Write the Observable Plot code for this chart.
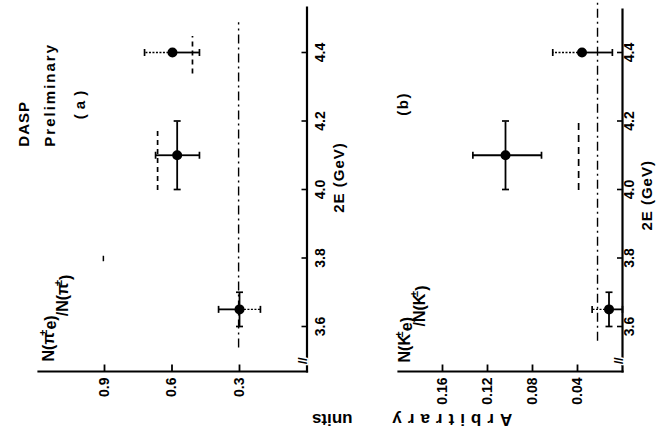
<!DOCTYPE html>
<html><head><meta charset="utf-8">
<script src="https://cdn.jsdelivr.net/npm/d3@7"></script>
<script src="https://cdn.jsdelivr.net/npm/@observablehq/plot@0.6"></script>
<style>
html,body{margin:0;padding:0;background:#fff;width:662px;height:434px;overflow:hidden}
#fig{position:absolute;left:0;top:0;width:434px;height:662px;transform-origin:0 0;transform:translate(0,434px) rotate(-90deg)}
#fig svg{position:absolute;left:0;overflow:visible}
</style></head><body><div id="fig"></div>
<script>
// ---------- data ----------
const energyTicks = [3.6, 3.8, 4.0, 4.2, 4.4];
const axisBreak = [3.5];
const pionTicks = [0.3, 0.6, 0.9];
const kaonTicks = [0.04, 0.08, 0.12, 0.16];

// panel (a): N(pi e)/N(pi)
const pionE   = [3.65, 4.10, 4.40];
const pionR   = [0.300, 0.577, 0.598];
const pionRlo = [0.207, 0.478, 0.478];
const pionRhi = [0.393, 0.673, 0.722];
const pionElo = [3.60, 4.00, null];
const pionEhi = [3.70, 4.20, null];
const pionHiDotted = [false, false, true];
const pionLoDotted = [true, false, false];
const pionDashR  = [0.664, 0.509];
const pionDashE1 = [4.00, 4.34];
const pionDashE2 = [4.18, 4.45];
const pionDotDashR  = [0.304];
const pionDotDashE1 = [3.54];
const pionDotDashE2 = [4.49];
const pionMarkE = [3.80];
const pionMarkR = [0.905];

// panel (b): N(K e)/N(K)
const kaonE   = [3.65, 4.10, 4.40];
const kaonR   = [0.012, 0.104, 0.036];
const kaonRlo = [0.000, 0.072, 0.009];
const kaonRhi = [0.027, 0.133, 0.062];
const kaonElo = [3.60, 4.00, null];
const kaonEhi = [3.70, 4.20, null];
const kaonHiDotted = [true, false, true];
const kaonLoDotted = [false, false, false];
const kaonDashR  = [0.039];
const kaonDashE1 = [4.00];
const kaonDashE2 = [4.20];
const kaonDotDashR  = [0.0222];
const kaonDotDashE1 = [3.56];
const kaonDotDashE2 = [4.55];

const textA = ["DASP", "Preliminary", "(a)"];
const textB = ["(b)"];
const ratioA = ["N(π±e)", "/N(π±)"];
const ratioB = ["N(K±e)", "/N(K±)"];
const xTitle = "2E (GeV)";
const yTitle = ["Arbitrary", "units"];

// ---------- helpers ----------
const FONT = '"Liberation Sans",Arial,sans-serif';
const rad = s => Math.sqrt(s / Math.PI);
const capH = {draw(c, s){ const r = rad(s); c.moveTo(-r, 0); c.lineTo(r, 0); }};
const capV = {draw(c, s){ const r = rad(s); c.moveTo(0, -r); c.lineTo(0, r); }};
const tickUp = {draw(c, s){ const r = rad(s); c.moveTo(0, 0); c.lineTo(0, -r); }};
const tickRight = {draw(c, s){ const r = rad(s); c.moveTo(0, 0); c.lineTo(r, 0); }};

function rowsOf(E, R, lo, hi, elo, ehi, hd, ld) {
  return E.map((e, i) => ({e, r: R[i], lo: lo[i], hi: hi[i], elo: elo[i], ehi: ehi[i], hd: hd[i], ld: ld[i]}));
}
function segs(e1, e2, r) { return r.map((v, i) => ({v, e1: e1[i], e2: e2[i]})); }

function dataMarks(rows, dash, dotdash, dashPattern) {
  const bars = rows.flatMap(d => [
    {e: d.e, y1: d.r, y2: d.hi, dotted: d.hd},
    {e: d.e, y1: d.lo, y2: d.r, dotted: d.ld}
  ]);
  const eRows = rows.filter(d => d.elo != null);
  return [
    Plot.ruleY(dotdash, {y: "v", x1: "e1", x2: "e2", strokeWidth: 1.4, strokeDasharray: "9,4,2,4"}),
    Plot.ruleY(dash, {y: "v", x1: "e1", x2: "e2", strokeWidth: 1.7, strokeDasharray: dashPattern}),
    Plot.ruleX(bars.filter(s => !s.dotted), {x: "e", y1: "y1", y2: "y2", strokeWidth: 1.8}),
    Plot.ruleX(bars.filter(s => s.dotted), {x: "e", y1: "y1", y2: "y2", strokeWidth: 1.4, strokeDasharray: "2,1.5"}),
    Plot.ruleY(eRows, {y: "r", x1: "elo", x2: "ehi", strokeWidth: 1.8}),
    Plot.dot(rows.flatMap(d => [{e: d.e, v: d.lo}, {e: d.e, v: d.hi}]), {x: "e", y: "v", symbol: capH, r: 3.5, stroke: "black", strokeWidth: 1.7}),
    Plot.dot(eRows.flatMap(d => [{e: d.elo, v: d.r}, {e: d.ehi, v: d.r}]), {x: "e", y: "v", symbol: capV, r: 3.5, stroke: "black", strokeWidth: 1.7}),
    Plot.dot(rows, {x: "e", y: "r", r: 5, fill: "black", stroke: "none"})
  ];
}

function axisMarks(vTicks, vFmt, xPad, titleE, titleDy) {
  return [
    Plot.frame({anchor: "left", strokeWidth: 2.2}),
    Plot.frame({anchor: "bottom", strokeWidth: 2.2}),
    Plot.dot(energyTicks, {x: d => d, frameAnchor: "bottom", symbol: tickUp, r: 5.5, stroke: "black", strokeWidth: 1.6}),
    Plot.dot(vTicks, {y: d => d, frameAnchor: "left", symbol: tickRight, r: 7, stroke: "black", strokeWidth: 1.8}),
    Plot.text(axisBreak, {x: d => d, frameAnchor: "bottom", text: () => "//", fontSize: 12, fontWeight: "bold", fill: "black", stroke: "white", strokeWidth: 3, paintOrder: "stroke"}),
    Plot.axisX({ticks: energyTicks, tickSize: 0, tickPadding: xPad, tickFormat: d3.format(".1f"), label: null, fontSize: 14, fontWeight: "bold", fontFamily: FONT}),
    Plot.axisY({ticks: vTicks, tickSize: 0, tickPadding: 6, tickFormat: vFmt, label: null, fontSize: 14, fontWeight: "bold", fontFamily: FONT}),
    Plot.text([xTitle], {x: titleE, frameAnchor: "bottom", dy: titleDy, text: d => d, textAnchor: "middle", lineAnchor: "middle", fontSize: 15, fontWeight: "bold"})
  ];
}

const base = {width: 434, x: {domain: [3.6, 4.4], range: [107, 381]},
  style: {background: "transparent", overflow: "visible", fontFamily: FONT, color: "black"}};

const pionRows = rowsOf(pionE, pionR, pionRlo, pionRhi, pionElo, pionEhi, pionHiDotted, pionLoDotted);
const kaonRows = rowsOf(kaonE, kaonR, kaonRlo, kaonRhi, kaonElo, kaonEhi, kaonHiDotted, kaonLoDotted);

const chartA = Plot.plot({
  ...base, height: 350, marginLeft: 62, marginRight: 8, marginTop: 38, marginBottom: 43.5,
  y: {domain: [0, 0.9], range: [306.5, 104]},
  marks: [
    ...axisMarks(pionTicks, d3.format(".1f"), 8, 4.035, 32),
    ...dataMarks(pionRows, segs(pionDashE1, pionDashE2, pionDashR), segs(pionDotDashE1, pionDotDashE2, pionDotDashR), "5,4"),
    Plot.ruleY(pionMarkE.map((e, i) => ({e, v: pionMarkR[i]})), {y: "v", x1: d => d.e - 0.008, x2: d => d.e + 0.008, strokeWidth: 1.5}),
    Plot.text([textA[0]], {x: 4.125, y: 1.255, text: d => d, textAnchor: "start", lineAnchor: "middle", fontSize: 15, fontWeight: "bold"}),
    Plot.text([textA[1]], {x: 4.125, y: 1.14, text: d => d, textAnchor: "start", lineAnchor: "middle", fontSize: 15, fontWeight: "bold"}),
    Plot.text([textA[2]], {x: 4.254, y: 1.007, text: d => d, textAnchor: "middle", lineAnchor: "middle", fontSize: 15, fontWeight: "bold"}),
    Plot.text([ratioA[0]], {x: 3.498, y: 1.149, text: d => d, textAnchor: "start", lineAnchor: "middle", fontSize: 16, fontWeight: "bold"}),
    Plot.text([ratioA[1]], {x: 3.63, y: 1.085, text: d => d, textAnchor: "start", lineAnchor: "middle", fontSize: 16, fontWeight: "bold"})
  ]
});

const chartB = Plot.plot({
  ...base, height: 362, marginLeft: 62, marginRight: 10, marginTop: 98, marginBottom: 40,
  y: {domain: [0, 0.16], range: [322, 142]},
  marks: [
    ...axisMarks(kaonTicks, d3.format(".2f"), 2, 3.983, 25),
    ...dataMarks(kaonRows, segs(kaonDashE1, kaonDashE2, kaonDashR), segs(kaonDotDashE1, kaonDotDashE2, kaonDotDashR), "7,5"),
    Plot.text([textB[0]], {x: 4.25, y: 0.1947, text: d => d, textAnchor: "middle", lineAnchor: "middle", fontSize: 15, fontWeight: "bold"}),
    Plot.text([ratioB[0]], {x: 3.495, y: 0.1938, text: d => d, textAnchor: "start", lineAnchor: "middle", fontSize: 16, fontWeight: "bold"}),
    Plot.text([ratioB[1]], {x: 3.60, y: 0.1805, text: d => d, textAnchor: "start", lineAnchor: "middle", fontSize: 16, fontWeight: "bold"}),
    Plot.text([yTitle[0]], {x: 3.328, y: 0.154, text: d => d, rotate: -90, textAnchor: "middle", lineAnchor: "middle", fontSize: 17, fontWeight: "bold"}),
    Plot.text([yTitle[1]], {x: 3.328, y: 0.258, text: d => d, rotate: -90, textAnchor: "middle", lineAnchor: "middle", fontSize: 17, fontWeight: "bold"})
  ]
});

const fig = document.getElementById("fig");
chartA.style.top = "0px";
chartB.style.top = "300px";
fig.appendChild(chartA);
fig.appendChild(chartB);

// lettering tweaks
const spacing = {"DASP": "1px", "Preliminary": "2px", "(a)": "5px", "(b)": "1.5px", "Arbitrary": "6px", "units": "0px", "2E (GeV)": "1px"};
d3.select(fig).selectAll("text").each(function () {
  const t = this.textContent;
  if (spacing[t]) this.style.letterSpacing = spacing[t];
  if (t.includes("±")) {
    const [a, b] = t.split("±");
    const sel = d3.select(this);
    this.textContent = "";
    sel.append("tspan").text(a);
    sel.append("tspan").attr("dy", "-0.55em").attr("dx", "-0.3em").attr("font-size", "0.7em").text("±");
    sel.append("tspan").attr("dy", "0.55em").text(b);
  }
});
</script></body></html>
